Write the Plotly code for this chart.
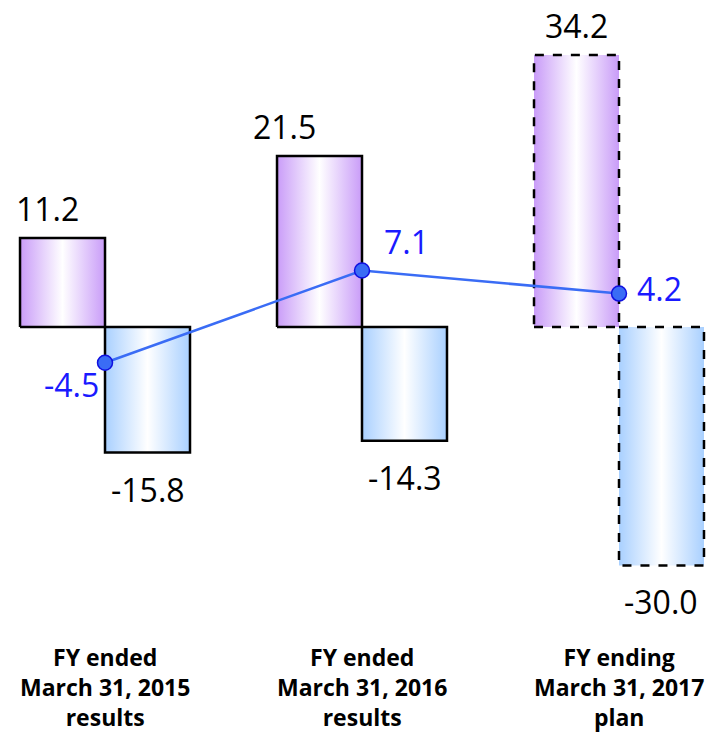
import plotly.graph_objects as go

# ---- data ----
categories = ["FY ended<br>March 31, 2015<br>results",
              "FY ended<br>March 31, 2016<br>results",
              "FY ending<br>March 31, 2017<br>plan"]
positive = [11.2, 21.5, 34.2]
negative = [-15.8, -14.3, -30.0]
net = [-4.5, 7.1, 4.2]
is_plan = [False, False, True]

# ---- style ----
W = 0.3307  # bar width in group units
purple_scale = [[0, "#c99cf8"], [0.5, "#ffffff"], [1, "#c99cf8"]]
blue_scale = [[0, "#a9d0ff"], [0.5, "#ffffff"], [1, "#a9d0ff"]]
pos_label_xshift = [-15, -35, 0]
val_font = dict(family="Open Sans", size=32, color="black")
net_font = dict(family="Open Sans", size=32, color="#1a1aff")

fig = go.Figure()

def bar(x0, x1, v, scale, dash):
    fig.add_trace(go.Scatter(
        x=[x0, x1, x1, x0, x0], y=[0, 0, v, v, 0],
        mode="lines", fill="toself",
        fillgradient=dict(type="horizontal", colorscale=scale),
        line=dict(color="black", width=2.5, dash="dash" if dash else "solid"),
        hoverinfo="skip", showlegend=False))

for i in range(len(categories)):
    bar(i - W, i, positive[i], purple_scale, is_plan[i])
    bar(i, i + W, negative[i], blue_scale, is_plan[i])

fig.add_trace(go.Scatter(
    x=list(range(len(net))), y=net, mode="lines+markers",
    line=dict(color="#3a6cf5", width=2.5),
    marker=dict(size=15, color="#3a6cf5", line=dict(color="#1010e0", width=1.5)),
    showlegend=False, hoverinfo="skip"))

ann = []
for i in range(len(categories)):
    ann.append(dict(x=i - W / 2, y=positive[i], text=f"{positive[i]:.1f}",
                    showarrow=False, yanchor="bottom", yshift=6,
                    xshift=pos_label_xshift[i], font=val_font))
    ann.append(dict(x=i + W / 2, y=negative[i], text=f"{negative[i]:.1f}",
                    showarrow=False, yanchor="top", yshift=-13, font=val_font))
    if net[i] < 0:
        ann.append(dict(x=i, y=net[i], text=f"{net[i]:.1f}", showarrow=False,
                        xanchor="right", yanchor="top", xshift=-4, yshift=2,
                        font=net_font))
    else:
        ann.append(dict(x=i, y=net[i], text=f"{net[i]:.1f}", showarrow=False,
                        xanchor="left", yanchor="bottom", xshift=20 if i == 1 else 16,
                        yshift=6 if i == 1 else -18, font=net_font))
    ann.append(dict(x=i, y=0, yref="paper", text=f"<b>{categories[i]}</b>",
                    showarrow=False, yanchor="top", yshift=-19,
                    font=dict(family="Open Sans", size=23, color="black")))

fig.update_layout(
    width=709, height=734,
    margin=dict(l=0, r=0, t=0, b=114),
    paper_bgcolor="white", plot_bgcolor="white",
    xaxis=dict(range=[-0.4086, 2.3502], visible=False, fixedrange=True),
    yaxis=dict(range=[-36.86, 41.13], visible=False, fixedrange=True),
    annotations=ann, showlegend=False,
)
fig.write_html("out.html", config={"displayModeBar": False},
               post_script="document.body.style.margin='0';document.body.style.overflow='hidden';")
